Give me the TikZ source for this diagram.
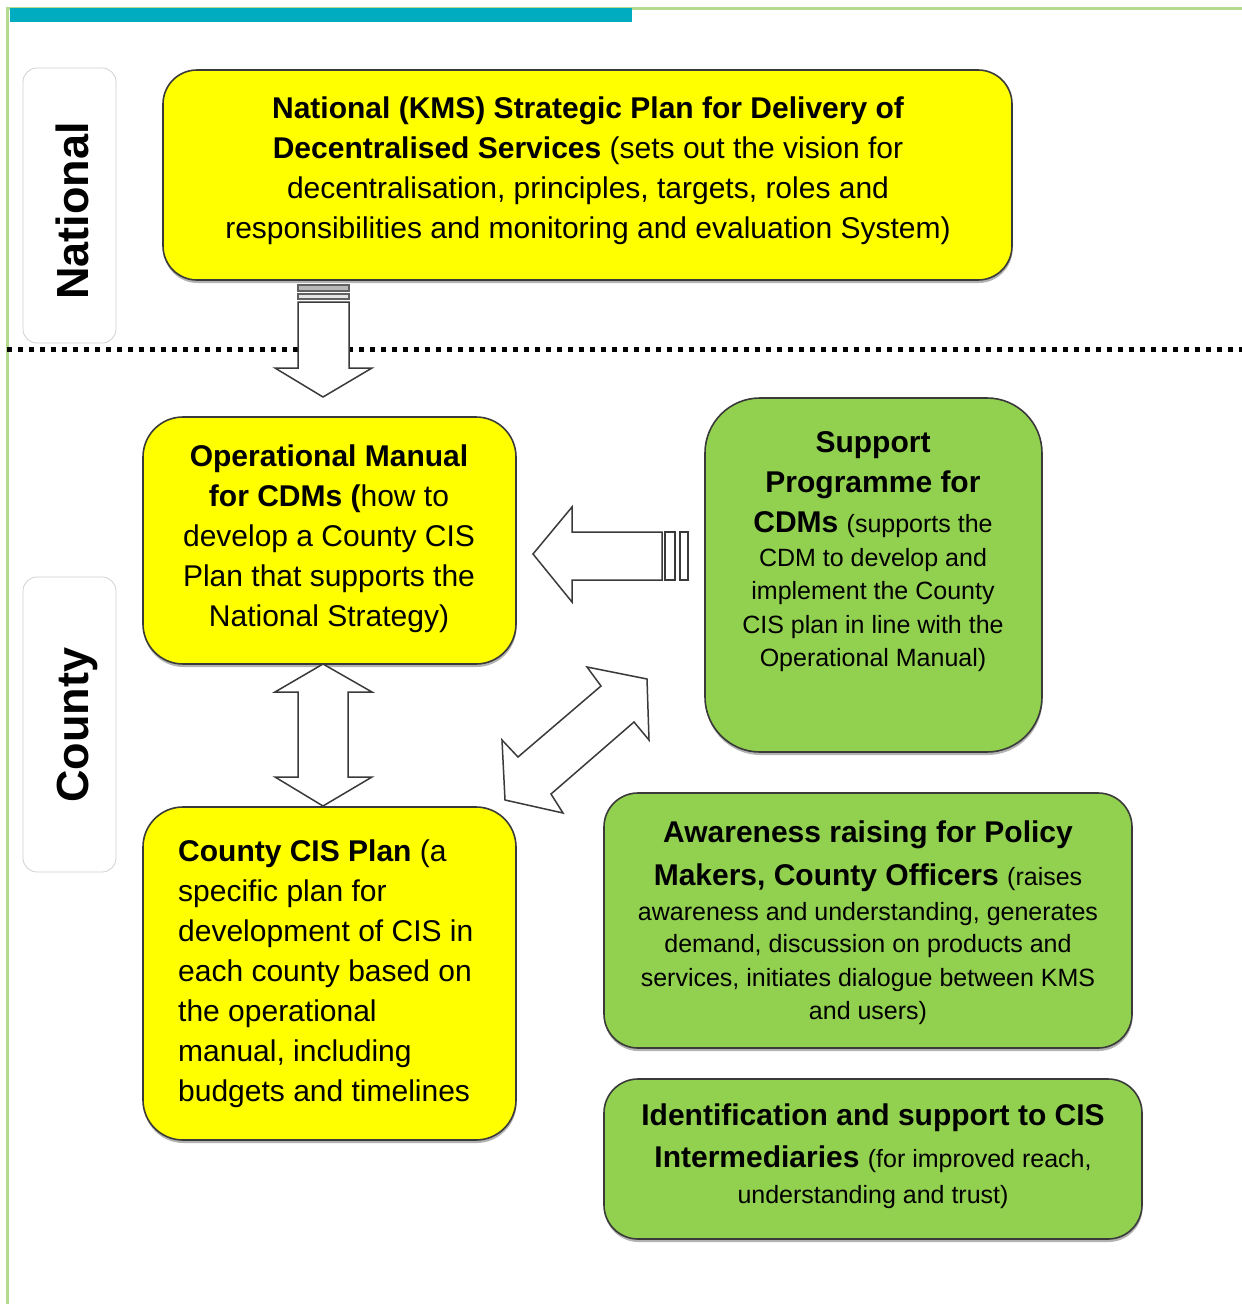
\documentclass[tikz,border=0pt]{standalone}
\usepackage{fontspec}
\setmainfont{Liberation Sans}
\usetikzlibrary{shadows}
\definecolor{boxyellow}{HTML}{FFFF00}
\definecolor{boxgreen}{HTML}{92D050}
\definecolor{framegreen}{HTML}{B4DA90}
\definecolor{tealbar}{HTML}{00ADC0}
\definecolor{edgegray}{HTML}{3A3A3A}
\newcommand\smallf{\fontsize{25}{33}\selectfont}
\begin{document}
\begin{tikzpicture}[x=1pt,y=-1pt,
  box/.style={draw=edgegray, line width=1.6pt, rounded corners=34pt, inner sep=0pt,
    drop shadow={shadow xshift=0.5pt, shadow yshift=-3pt, opacity=0.3, fill=black}},
  ybox/.style={box, fill=boxyellow},
  gbox/.style={box, fill=boxgreen},
  txt/.style={inner sep=0pt, align=center, font=\fontsize{30}{40}\selectfont},
  lblbox/.style={draw=black!18, line width=0.8pt, rounded corners=14pt, fill=white,
    minimum width=93pt, inner sep=0pt},
  lbltxt/.style={inner sep=0pt, rotate=90, anchor=base, font=\fontsize{45}{50}\selectfont\bfseries},
  blockarrow/.style={draw=edgegray, line width=1.5pt, fill=white, line join=miter},
  stripe/.style={draw=edgegray!80, line width=1.2pt, fill=gray!55}
]
\useasboundingbox (0,0) rectangle (1242,1304);
\fill[white] (0,0) rectangle (1242,1304);

% frame
\coordinate (ftl) at (7,8);
\coordinate (ftr) at (1242,8);
\coordinate (fbl) at (7,1304);
\draw[framegreen, line width=3pt] (fbl) -- (ftl) -- (ftr);
\fill[tealbar] (10,8) rectangle (632,22);

% side labels
\node[lblbox, minimum height=275pt] (natbox) at (69.5,205.5) {};
\node[lbltxt] (natlbl) at (88,211) {National};
\node[lblbox, minimum height=295pt] (cntbox) at (69.5,724.5) {};
\node[lbltxt] (cntlbl) at (88,725) {County};

% dotted divider
\coordinate (dl) at (7,349);
\coordinate (dr) at (1242,349);
\draw[line width=5pt, dash pattern=on 5pt off 6pt] (dl) -- (dr);

% boxes
\node[ybox, minimum width=849pt, minimum height=210pt] (natplan) at (587.5,175) {};
\node[txt, anchor=north] (natplantxt) at (588,97)
 {{\bfseries National (KMS) Strategic Plan for Delivery of}\\
  {\bfseries Decentralised Services} (sets out the vision for\\
  decentralisation, principles, targets, roles and\\
  responsibilities and monitoring and evaluation System)};

\node[ybox, rounded corners=40pt, minimum width=373pt, minimum height=247pt] (opman) at (329.5,540.5) {};
\node[txt, anchor=north] (opmantxt) at (329,445)
 {{\bfseries Operational Manual}\\
  {\bfseries for CDMs (}how to\\
  develop a County CIS\\
  Plan that supports the\\
  National Strategy)};

\node[ybox, rounded corners=40pt, minimum width=373pt, minimum height=333pt] (cisplan) at (329.5,973.5) {};
\node[txt, align=left, anchor=north west] (cisplantxt) at (178,840)
 {{\bfseries County CIS Plan} (a\\
  specific plan for\\
  development of CIS in\\
  each county based on\\
  the operational\\
  manual, including\\
  budgets and timelines};

\node[gbox, rounded corners=55pt, minimum width=337pt, minimum height=354pt] (support) at (873.5,575) {};
\node[txt, anchor=north] (supporttxt) at (873,431)
 {{\bfseries Support}\\
  {\bfseries Programme for}\\
  {\bfseries CDMs} {\smallf (supports the}\\[-6pt]
  {\smallf CDM to develop and}\\[-7pt]
  {\smallf implement the County}\\[-6pt]
  {\smallf CIS plan in line with the}\\[-7pt]
  {\smallf Operational Manual)}};

\node[gbox, minimum width=528pt, minimum height=255pt] (aware) at (868,920.5) {};
\node[txt, anchor=north] (awaretxt) at (868,821)
 {{\bfseries Awareness raising for Policy}\\[3pt]
  {\bfseries Makers, County Officers} {\smallf (raises}\\[-5pt]
  {\smallf awareness and understanding, generates}\\[-8pt]
  {\smallf demand, discussion on products and}\\[-6pt]
  {\smallf services, initiates dialogue between KMS}\\[-7pt]
  {\smallf and users)}};

\node[gbox, minimum width=538pt, minimum height=160pt] (ident) at (873,1159) {};
\node[txt, anchor=north] (identtxt) at (873,1104)
 {{\bfseries Identification and support to CIS}\\[2pt]
  {\bfseries Intermediaries} {\smallf (for improved reach,}\\[-4pt]
  {\smallf understanding and trust)}};

% down arrow National -> Operational Manual
\draw[stripe] (298,285) rectangle (349,291);
\draw[draw=edgegray!80, line width=1.2pt, fill=gray!20] (298,294) rectangle (349,299);
\draw[blockarrow] (298,302) -- (349,302) -- (349,368) -- (372,368) -- (323,397)
  -- (275,368) -- (298,368) -- cycle;

% left arrow Support -> Operational Manual
\draw[blockarrow] (662,532) -- (572,532) -- (572,507) -- (533,554) -- (572,602)
  -- (572,580) -- (662,580) -- cycle;
\draw[draw=edgegray, line width=1.3pt, fill=white] (665,532) rectangle (675,580);
\draw[draw=edgegray, line width=1.3pt, fill=white] (680,532) rectangle (688,580);

% vertical double arrow
\draw[blockarrow] (323,664) -- (372,692) -- (348,692) -- (348,777) -- (372,777)
  -- (323,806) -- (275,777) -- (298,777) -- (298,692) -- (275,692) -- cycle;

% diagonal double arrow
\draw[blockarrow] (505,800) -- (502,740) -- (518,757) -- (601,686) -- (587,667)
  -- (647,679) -- (649,740) -- (634,722) -- (551,794) -- (563,813) -- cycle;
\end{tikzpicture}
\end{document}
